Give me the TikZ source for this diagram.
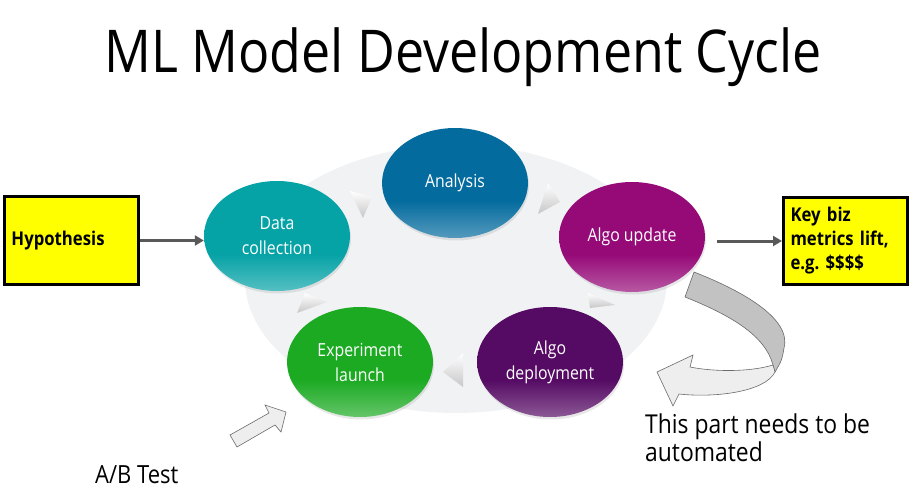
\documentclass[tikz,border=0pt]{standalone}
\usepackage{fontspec}
\setmainfont{Open Sans}[FakeStretch=0.88]
\usetikzlibrary{shapes.geometric,arrows.meta,shadows}

\definecolor{bgcycle}{HTML}{F1F2F4}
\definecolor{cteal}{HTML}{05A2A6}
\definecolor{cblue}{HTML}{046B9E}
\definecolor{cmagenta}{HTML}{960A78}
\definecolor{cplum}{HTML}{550A63}
\definecolor{cgreen}{HTML}{1BAA22}
\definecolor{flowgray}{HTML}{595959}
\definecolor{notegold}{HTML}{FFFF00}
\definecolor{bandDark}{HTML}{C2C2C2}
\definecolor{bandLight}{HTML}{EEEEEE}
\definecolor{bandEdge}{HTML}{6A6A6A}

% solid colour over most of the stage, fading lighter near the bottom
\newcommand\makestageshade[2]{%
  \pgfdeclareverticalshading{#1}{100bp}{%
    color(0bp)=(#2!68!white); color(25bp)=(#2!68!white);
    color(42bp)=(#2); color(100bp)=(#2)}}
\makestageshade{shteal}{cteal}
\makestageshade{shblue}{cblue}
\makestageshade{shmagenta}{cmagenta}
\makestageshade{shplum}{cplum}
\makestageshade{shgreen}{cgreen}

\tikzset{
  stage/.style={ellipse, minimum width=146pt, minimum height=110pt, inner sep=0pt,
    text=white, align=center, font=\fontsize{18}{25}\selectfont,
    shading=#1,
    drop shadow={opacity=0.18, shadow xshift=1pt, shadow yshift=-2.5pt}},
  notebox/.style={draw=black, line width=3pt, fill=notegold,
    font=\bfseries\fontsize{19}{24}\selectfont,
    align=left, inner sep=0pt, anchor=north west},
  flowarrow/.style={draw=flowgray, line width=3pt, -{Triangle[length=9pt,width=10pt]}},
  chevron/.style={top color=white, bottom color=black!22, draw=none},
  band/.style={draw=bandEdge, line width=0.6pt},
  plain/.style={inner sep=0pt, text=black}
}

\begin{document}
\frenchspacing
\begin{tikzpicture}[x=1pt, y=-1pt]
\useasboundingbox (0,0) rectangle (924,503);

% title
\node[font=\fontsize{59}{64}\selectfont, anchor=base] (title) at (463,73) {ML Model Development Cycle};

% soft backdrop of the cycle
\fill[bgcycle] (456,279) ellipse[x radius=211, y radius=134];

% chevrons between the stages
\shade[chevron] (350,191) -- (372,197) -- (363,218) -- cycle;
\shade[chevron] (548,183) -- (560,202) -- (538,214) -- cycle;
\shade[chevron] (588,293) -- (615,305) -- (590,308) -- cycle;
\shade[chevron] (463,353) -- (443,372) -- (463,387) -- cycle;
\shade[chevron] (297,313) -- (305,293) -- (327,302) -- cycle;

% stages of the cycle
\node[stage=shteal]    (dc)  at (277,236) {Data\\collection};
\node[stage=shblue]    (an)  at (455,183) {Analysis};
\node[stage=shmagenta] (au)  at (632,237) {Algo update};
\node[stage=shplum]    (ad)  at (550,362) {Algo\\deployment};
\node[stage=shgreen]   (ex)  at (360,362) {Experiment\\launch};

% input and outcome boxes
\node[notebox, minimum width=134pt, minimum height=88pt, text width=128pt] (hyp) at (3,195)
  {\hspace*{4pt}Hypothesis};
\node[notebox, minimum width=124pt, minimum height=87pt, text width=118pt] (kbm) at (782,196)
  {\hspace*{4pt}\parbox[c]{112pt}{\raggedright Key biz\\metrics lift,\\e.g. \$\$\$\$}};

\draw[flowarrow] (hyp.east) -- (hyp.east -| dc.west);
\draw[flowarrow, shorten <=12pt] (au.east |- kbm.west) -- (kbm.west);

% U-turn arrow back into the cycle
\filldraw[band, fill=bandDark] (694,272) .. controls (740,290) and (792,318) .. (784,348)
  .. controls (782,360) .. (775,372) -- (773,365)
  .. controls (765,335) and (730,315) .. (685,297) -- cycle;
\filldraw[band, fill=bandLight] (773,365) .. controls (750,372) and (715,372) .. (690,367)
  -- (693,355) -- (657,372) -- (673,406) -- (679,394)
  .. controls (715,398) and (765,392) .. (775,372) -- cycle;

% small arrow pointing at the experiment stage
\filldraw[band, fill=bandLight] (230,435) -- (269,413) -- (265,405) -- (286,412)
  -- (281,432) -- (275,425) -- (237,447) -- cycle;

% annotations
\node[plain, font=\fontsize{26}{28}\selectfont, align=left, anchor=north west] (auto) at (645,414)
  {This part needs to be\\automated};
\node[plain, font=\fontsize{25}{28}\selectfont, anchor=base west] (ab) at (95,483) {A/B Test};
\end{tikzpicture}
\end{document}
